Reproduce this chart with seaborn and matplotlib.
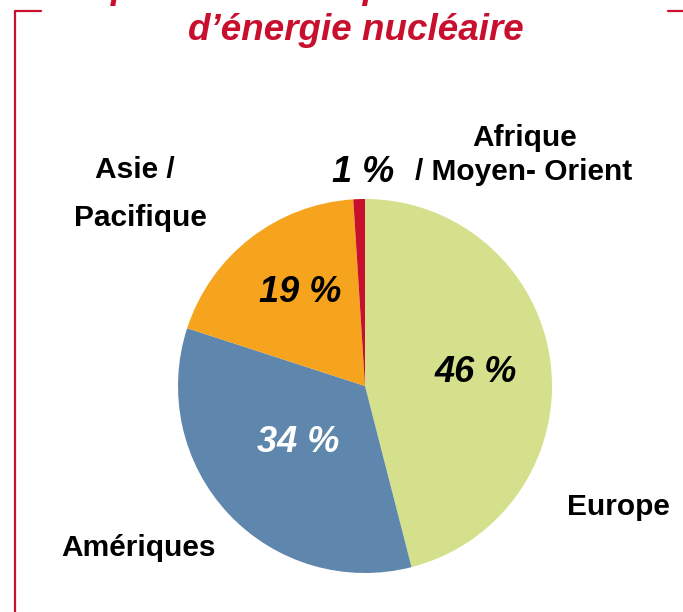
import matplotlib
matplotlib.use("Agg")
import matplotlib.pyplot as plt
import seaborn as sns
from matplotlib.lines import Line2D

# data
regions = ["Europe", "Amériques", "Asie /\n\nPacifique", "Afrique\n/ Moyen- Orient"]
shares = [46, 34, 19, 1]
pct_labels = ["46 %", "34 %", "19 %", "1 %"]
colors = ["#D4E08B", "#5F86AC", "#F6A31D", "#C8102E"]
title_lines = ["Répartition de la production 2004", "d’énergie nucléaire"]

sns.set_theme(style="white")
plt.rcParams['font.family'] = ['Liberation Sans', 'DejaVu Sans']

W, H = 683, 612
fig = plt.figure(figsize=(W / 100, H / 100), dpi=100)
fig.patch.set_facecolor("white")

# pie centre / radius in pixels
cx, cy, r = 365, 386, 187
ax = fig.add_axes([(cx - r) / W, (H - cy - r) / H, 2 * r / W, 2 * r / H])
ax.pie(shares, colors=colors, startangle=90, counterclock=False, radius=1,
       wedgeprops=dict(linewidth=0))
ax.set_xlim(-1, 1)
ax.set_ylim(-1, 1)
ax.set_aspect("equal")
ax.axis("off")

def px(x, y):
    return x / W, 1 - y / H

red = "#C8102E"
# frame
fig.add_artist(Line2D([15 / W, 15 / W], [1 - 11 / H, 0], color=red, lw=1.6, transform=fig.transFigure))
fig.add_artist(Line2D([15 / W, 41 / W], [1 - 11 / H, 1 - 11 / H], color=red, lw=1.6, transform=fig.transFigure))
fig.add_artist(Line2D([668 / W, 1], [1 - 11 / H, 1 - 11 / H], color=red, lw=1.6, transform=fig.transFigure))

# title (first line cut off by the top edge)
fig.text(*px(356, -12), title_lines[0], ha="center", va="center", fontsize=26.5,
         fontweight="bold", fontstyle="italic", color=red)
fig.text(*px(356, 30), title_lines[1], ha="center", va="center", fontsize=26.5,
         fontweight="bold", fontstyle="italic", color=red)

# percentage labels
pct_pos = [(476, 373), (298, 443), (300, 292), (363, 172)]
pct_col = ["black", "white", "black", "black"]
for lab, (x, y), c in zip(pct_labels, pct_pos, pct_col):
    fig.text(*px(x, y), lab, ha="center", va="center", fontsize=26,
             fontweight="bold", fontstyle="italic", color=c)

# region labels
fig.text(*px(618, 507), regions[0], ha="center", va="center", fontsize=21.5, fontweight="bold", color="black")
fig.text(*px(138, 548), regions[1], ha="center", va="center", fontsize=21.5, fontweight="bold", color="black")
asie, pac = regions[2].split("\n\n")
fig.text(*px(135, 170), asie, ha="center", va="center", fontsize=21.5, fontweight="bold", color="black")
fig.text(*px(140, 218), pac, ha="center", va="center", fontsize=21.5, fontweight="bold", color="black")
afr, mo = regions[3].split("\n")
fig.text(*px(525, 138), afr, ha="center", va="center", fontsize=21.5, fontweight="bold", color="black")
fig.text(*px(524, 172), mo, ha="center", va="center", fontsize=21.5, fontweight="bold", color="black")

fig.savefig("out.png", dpi=100)
